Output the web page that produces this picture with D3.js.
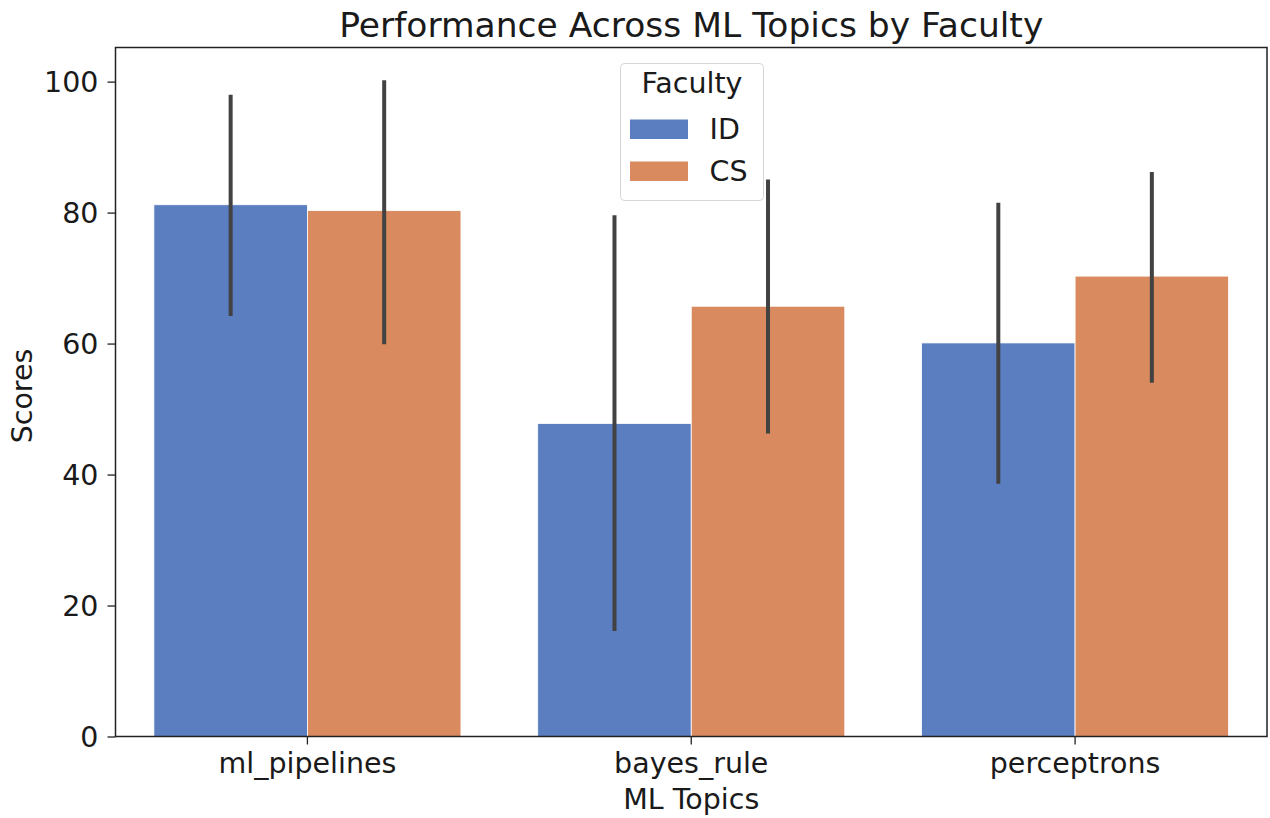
<!DOCTYPE html>
<html>
<head>
<meta charset="utf-8">
<script src="https://cdn.jsdelivr.net/npm/d3@7"></script>
<style>
  html, body { margin: 0; padding: 0; background: #fff; }
  svg { display: block; font-family: "DejaVu Sans", sans-serif; }
</style>
</head>
<body>
<svg id="chart" width="1270" height="818"></svg>
<script>
// Mean score per topic and faculty, with the ends of each error bar
const topics = ["ml_pipelines", "bayes_rule", "perceptrons"];
const faculties = ["ID", "CS"];
const idMeans = [81.2, 47.8, 60.1];
const csMeans = [80.3, 65.7, 70.3];
const idLow = [64.2, 16.1, 38.6];
const idHigh = [98.0, 79.6, 81.5];
const csLow = [59.9, 46.25, 54.0];
const csHigh = [100.2, 85.05, 86.2];
const yTicks = [0, 20, 40, 60, 80, 100];
const colors = ["#5b7ec0", "#d98a5f"];

const FS = "28.5px";

const rows = [];
topics.forEach((t, i) => {
  rows.push({ topic: t, faculty: "ID", mean: idMeans[i], lo: idLow[i], hi: idHigh[i] });
  rows.push({ topic: t, faculty: "CS", mean: csMeans[i], lo: csLow[i], hi: csHigh[i] });
});

const svg = d3.select("#chart");
const m = { left: 115.5, right: 1267, top: 47.5, bottom: 736.5 };

const x = d3.scaleBand().domain(topics).range([m.left, m.right]).paddingInner(0.2).paddingOuter(0.1);
const xs = d3.scaleBand().domain(faculties).range([0, x.bandwidth()]);
const yMax = d3.max(rows, d => d.hi) * 1.05;
const y = d3.scaleLinear().domain([0, yMax]).range([m.bottom, m.top]);
const color = d3.scaleOrdinal().domain(faculties).range(colors);

// bars
svg.append("g").selectAll("rect").data(rows).join("rect")
  .attr("x", d => x(d.topic) + xs(d.faculty))
  .attr("y", d => y(d.mean))
  .attr("width", xs.bandwidth())
  .attr("height", d => y(0) - y(d.mean))
  .attr("fill", d => color(d.faculty))
  .attr("stroke", "#ffffff")
  .attr("stroke-width", 0.8);

// error bars
svg.append("g").selectAll("line").data(rows).join("line")
  .attr("x1", d => x(d.topic) + xs(d.faculty) + xs.bandwidth() / 2)
  .attr("x2", d => x(d.topic) + xs(d.faculty) + xs.bandwidth() / 2)
  .attr("y1", d => y(d.lo))
  .attr("y2", d => y(d.hi))
  .attr("stroke", "#424242")
  .attr("stroke-width", 4);

// axes
const yAxis = svg.append("g")
  .attr("transform", `translate(${m.left},0)`)
  .call(d3.axisLeft(y).tickValues(yTicks).tickSize(8).tickPadding(9));
const xAxis = svg.append("g")
  .attr("transform", `translate(0,${m.bottom})`)
  .call(d3.axisBottom(x).tickSize(8).tickPadding(8));
[yAxis, xAxis].forEach(g => {
  g.select(".domain").remove();
  g.selectAll(".tick line").attr("stroke", "#222").attr("stroke-width", 1.3);
  g.selectAll(".tick text").attr("fill", "#1a1a1a").style("font-size", FS)
    .style("font-family", "'DejaVu Sans', sans-serif");
});
yAxis.selectAll(".tick text").attr("dy", "0.36em");

// frame
svg.append("rect")
  .attr("x", m.left).attr("y", m.top)
  .attr("width", m.right - m.left).attr("height", m.bottom - m.top)
  .attr("fill", "none").attr("stroke", "#222").attr("stroke-width", 1.5);

// title and axis labels
svg.append("text").attr("x", (m.left + m.right) / 2).attr("y", 37)
  .attr("text-anchor", "middle").style("font-size", "34.5px").attr("fill", "#1a1a1a")
  .text("Performance Across ML Topics by Faculty");
svg.append("text").attr("x", (m.left + m.right) / 2).attr("y", 809)
  .attr("text-anchor", "middle").style("font-size", FS).attr("fill", "#1a1a1a")
  .text("ML Topics");
svg.append("text").attr("transform", `translate(32,396) rotate(-90)`)
  .attr("text-anchor", "middle").style("font-size", FS).attr("fill", "#1a1a1a")
  .text("Scores");

// legend
const lg = svg.append("g").attr("transform", "translate(620.5,63.5)");
lg.append("rect").attr("width", 143).attr("height", 137).attr("rx", 4)
  .attr("fill", "#ffffff").attr("fill-opacity", 0.8)
  .attr("stroke", "#d6d6d6").attr("stroke-width", 1);
lg.append("text").attr("x", 71.5).attr("y", 29.5).attr("text-anchor", "middle")
  .style("font-size", FS).attr("fill", "#1a1a1a").text("Faculty");
faculties.forEach((f, i) => {
  const yy = 56 + i * 42;
  lg.append("rect").attr("x", 9.5).attr("y", yy).attr("width", 58).attr("height", 19.5)
    .attr("fill", color(f));
  lg.append("text").attr("x", 89).attr("y", yy + 19).style("font-size", FS)
    .attr("fill", "#1a1a1a").text(f);
});
</script>
</body>
</html>
